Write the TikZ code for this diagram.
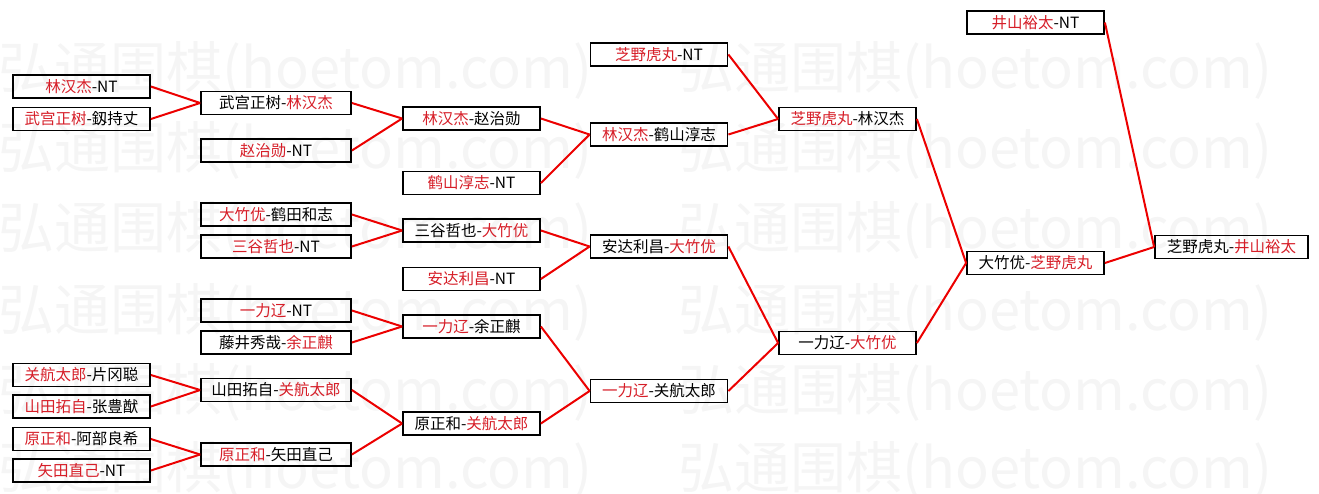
\documentclass[tikz,border=0pt]{standalone}
\usepackage{fontspec}
\setmainfont{Noto Sans CJK SC}
\usepackage{tikz}
\usetikzlibrary{backgrounds}
\definecolor{winred}{RGB}{214,30,40}
\definecolor{linkred}{RGB}{236,0,0}
\newcommand{\wn}[1]{\textcolor{winred}{#1}}
\tikzset{
  mbox/.style={draw=black,line width=1.8pt,minimum height=23pt,inner sep=0pt,
    font=\fontsize{15.5pt}{15.5pt}\selectfont},
  colA/.style={mbox,minimum width=137pt},
  colB/.style={mbox,minimum width=150pt},
  colG/.style={mbox,minimum width=153pt},
  blink/.style={linkred,line width=2pt},
  wmark/.style={anchor=west,inner sep=0pt,text=black!4,
    font=\fontsize{56pt}{56pt}\selectfont},
}
\begin{document}
\begin{tikzpicture}[x=1pt,y=-1pt]
  \useasboundingbox (0,0) rectangle (1319,493);
  % watermark rows
  \foreach \yy [count=\i] in {70,150,230,312,392,470} {
    \foreach \xx [count=\j] in {-2,678} {
      \node[wmark] (wm\i\j) at (\xx,\yy) {弘通围棋(hoetom.com)};
    }
  }
  % first round
  \node[colA] (a1) at (81.5,86.5) {\wn{林汉杰}-NT};
  \node[colA] (a2) at (81.5,119) {\wn{武宫正树}-釼持丈};
  \node[colA] (a3) at (81.5,375) {\wn{关航太郎}-片冈聪};
  \node[colA] (a4) at (81.5,406.5) {\wn{山田拓自}-张豊猷};
  \node[colA] (a5) at (81.5,439) {\wn{原正和}-阿部良希};
  \node[colA] (a6) at (81.5,470.5) {\wn{矢田直己}-NT};
  \node[colB] (b1) at (276,103) {武宫正树-\wn{林汉杰}};
  \node[colB] (b2) at (276,150.5) {\wn{赵治勋}-NT};
  \node[colB] (b3) at (276,214.5) {\wn{大竹优}-鹤田和志};
  \node[colB] (b4) at (276,246.5) {\wn{三谷哲也}-NT};
  \node[colB] (b5) at (276,310.5) {\wn{一力辽}-NT};
  \node[colB] (b6) at (276,342.5) {藤井秀哉-\wn{余正麒}};
  \node[colB] (b7) at (276,390) {山田拓自-\wn{关航太郎}};
  \node[colB] (b8) at (276,454.5) {\wn{原正和}-矢田直己};
  \node[colA] (c1) at (471.5,118.5) {\wn{林汉杰}-赵治勋};
  \node[colA] (c2) at (471.5,183) {\wn{鹤山淳志}-NT};
  \node[colA] (c3) at (471.5,230.5) {三谷哲也-\wn{大竹优}};
  \node[colA] (c4) at (471.5,279) {\wn{安达利昌}-NT};
  \node[colA] (c5) at (471.5,326.5) {\wn{一力辽}-余正麒};
  \node[colA] (c6) at (471.5,423.5) {原正和-\wn{关航太郎}};
  \node[colA] (d1) at (659,54.5) {\wn{芝野虎丸}-NT};
  \node[colA] (d2) at (659,134.5) {\wn{林汉杰}-鹤山淳志};
  \node[colA] (d3) at (659,246.5) {安达利昌-\wn{大竹优}};
  \node[colA] (d4) at (659,391) {\wn{一力辽}-关航太郎};
  \node[colA] (e1) at (847.5,119) {\wn{芝野虎丸}-林汉杰};
  \node[colA] (e2) at (847.5,343) {一力辽-\wn{大竹优}};
  \node[colA] (f1) at (1035.5,22.5) {\wn{井山裕太}-NT};
  \node[colA] (f2) at (1035.5,263) {大竹优-\wn{芝野虎丸}};
  \node[colG] (g1) at (1231.5,247) {芝野虎丸-\wn{井山裕太}};
  \foreach \p/\q in {a1/b1,a2/b1,b1/c1,b2/c1,c1/d2,c2/d2,d1/e1,d2/e1,
      b3/c3,b4/c3,c3/d3,c4/d3,b5/c5,b6/c5,a3/b7,a4/b7,a5/b8,a6/b8,
      b7/c6,b8/c6,c5/d4,c6/d4,d3/e2,d4/e2,e1/f2,e2/f2,f1/g1,f2/g1} {
    \draw[blink] (\p.east) -- (\q.west);
  }
\end{tikzpicture}
\end{document}
